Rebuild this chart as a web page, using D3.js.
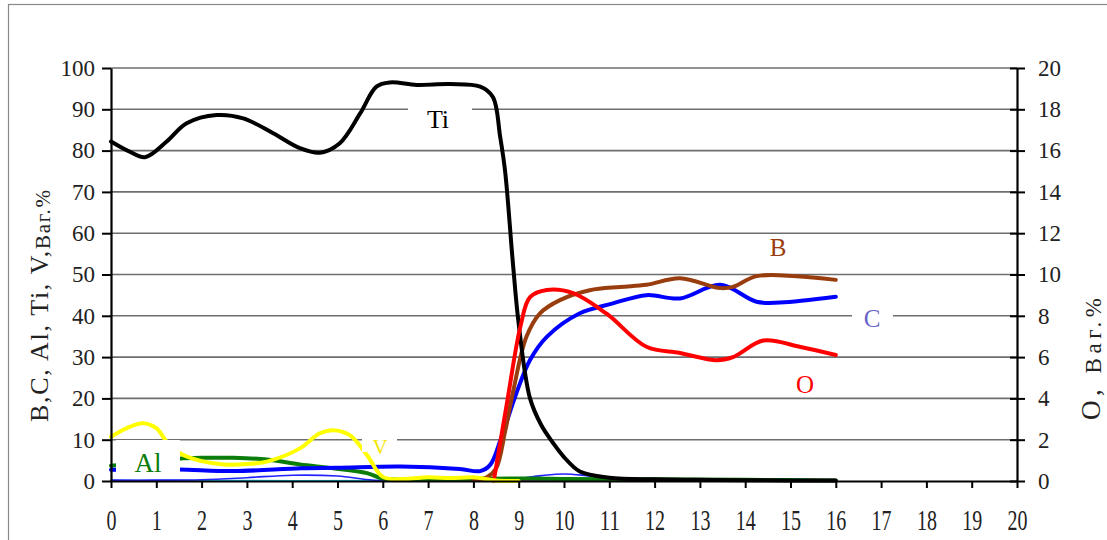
<!DOCTYPE html>
<html lang="uk">
<head>
<meta charset="UTF-8">
<title>Профіль концентрації</title>
<script src="https://cdn.jsdelivr.net/npm/d3@7"></script>
<style>
  body { margin: 0; background: #fff; }
  text { font-family: "Liberation Serif", "DejaVu Serif", serif; }
</style>
</head>
<body>
<script>
    // x ticks and the two y scales
    const xTicks = d3.range(0, 21, 1);
    const yLeftTicks = d3.range(0, 101, 10);
    const yRightTicks = d3.range(0, 21, 2);

    // series: [distance, value]; O is on the right axis
    const ti = [[0,82.2],[0.4,79.8],[0.75,78.4],[1.23,82.2],[1.67,86.6],[2.33,88.6],[2.92,87.8],[3.58,84.2],
        [4.17,80.6],[4.61,79.5],[5.05,81.8],[5.5,89.0],[5.86,95.5],[6.16,96.5],[6.75,95.9],[7.48,96.1],
        [8.15,95.5],[8.43,93],[8.59,83.4],[8.7,75],[8.87,53],[9.0,38],[9.25,20],[9.5,13.5],[9.76,9.2],
        [10,5.8],[10.35,2.3],[11,0.8],[12,0.4],[13,0.3],[14,0.2],[16,0.1]];
    const c = [[0,2.7],[1,2.7],[1.5,2.8],[2.7,2.4],[4.2,3.1],[5,3.2],[6.4,3.5],[7.7,2.9],[8.15,2.4],
        [8.37,3.9],[8.6,10],[8.95,21.3],[9.25,29.3],[9.62,34.9],[10.35,40.6],[11.08,43.0],[11.82,45.0],
        [12.56,44.2],[13.45,47.5],[14.25,43.4],[14.77,43.2],[16,44.6]];
    const b = [[8.0,0.2],[8.3,0.9],[8.5,3],[8.7,12],[8.87,21.3],[9.17,34.9],[9.47,40.6],
        [9.91,43.8],[10.57,46.2],[11.24,47.0],[11.82,47.5],[12.56,49.1],[13.45,46.7],[13.73,47.0],
        [14.25,49.6],[15.13,49.6],[16,48.7]];
    const o = [[8.45,0],[8.75,3.9],[9.04,7.5],[9.25,8.9],[9.62,9.25],[10.2,9.1],[10.94,8.1],[11.82,6.5],
        [12.56,6.2],[13.37,5.85],[13.73,6.0],[14.4,6.8],[15.2,6.5],[16,6.1]];
    const al = [[0,3.7],[0.5,4.2],[1,4.8],[1.5,5.4],[2,5.6],[2.7,5.6],[3.44,5.2],[4.17,4.0],[4.9,3.1],
        [5.65,1.9],[6,0.6],[7,0.4],[8,0.5],[9,0.6],[10,0.5],[12,0.4],[14,0.3],[16,0.1]];
    const v = [[0,10.7],[0.35,12.8],[0.7,14.0],[1.0,12.8],[1.23,9.5],[1.52,6.7],[2.0,4.8],[2.5,4.0],
        [3,4.1],[3.44,4.7],[4.17,7.9],[4.6,11.5],[4.9,12.3],[5.27,11.1],[5.65,6.3],[6,1.0],[6.5,0.5],
        [7,0.9],[7.5,0.7],[8,0.9],[8.5,0.1],[9,0]];
    const thinBlue = [[0,0.2],[1,0.2],[2,0.3],[3,0.8],[4,1.4],[5,1.2],[5.8,0.2],[7,0.1],[8,0.1],[8.5,0.2],
        [9,0.6],[9.5,1.3],[10,1.7],[10.5,1.3],[11,0.7],[12,0.5],[13,0.3],[14,0.1],[16,0.05]];
    const cyan = [[0,0.1],[3,0.1],[6,0.1],[7,0.3],[8,0.4],[9,0.4],[10,0.3],[11,0.2],[12,0.1]];
    const purple = [[0,0.1],[8,0.05],[16,0.05]];

    var w = 1107, h = 540;
    var mLeft = 111, mRight = 1017, mTop = 68, mBottom = 481;

    var svg = d3.select("body").append("svg")
        .attr("width", w)
        .attr("height", h);

    // outer frame
    svg.append("rect")
        .attr("x", 8.5).attr("y", 4.5)
        .attr("width", 1110).attr("height", 560)
        .attr("fill", "#fff")
        .attr("stroke", "#888")
        .attr("stroke-width", 1.2);

    var xScale = d3.scaleLinear().domain([0, 20]).range([mLeft, mRight]);
    var yLeft = d3.scaleLinear().domain([0, 100]).range([mBottom, mTop]);
    var yRight = d3.scaleLinear().domain([0, 20]).range([mBottom, mTop]);

    // gridlines
    svg.append("g")
        .selectAll("line")
        .data(yLeftTicks.slice(1))
        .enter()
        .append("line")
        .attr("x1", mLeft).attr("x2", mRight)
        .attr("y1", function (d) { return yLeft(d); })
        .attr("y2", function (d) { return yLeft(d); })
        .attr("stroke", "#6e6e6e")
        .attr("stroke-width", 1.6);

    var line = function (ys) {
        return d3.line()
            .x(function (d) { return xScale(d[0]); })
            .y(function (d) { return ys(d[1]); })
            .curve(d3.curveCatmullRom.alpha(0.5));
    };

    var series = [
        { data: purple, color: "#993399", width: 1.5, scale: yLeft },
        { data: cyan, color: "#22ccee", width: 1.5, scale: yLeft },
        { data: thinBlue, color: "#2222ff", width: 1.6, scale: yLeft },
        { data: al, color: "#0a7d0a", width: 4, scale: yLeft },
        { data: c, color: "#0000ff", width: 4, scale: yLeft },
        { data: b, color: "#9a3d0e", width: 4, scale: yLeft },
        { data: ti, color: "#000000", width: 4, scale: yLeft },
        { data: o, color: "#ff0000", width: 4, scale: yRight },
        { data: v, color: "#ffff00", width: 4, scale: yLeft }
    ];

    svg.append("g")
        .selectAll("path")
        .data(series)
        .enter()
        .append("path")
        .attr("d", function (s) { return line(s.scale)(s.data); })
        .attr("fill", "none")
        .attr("stroke", function (s) { return s.color; })
        .attr("stroke-width", function (s) { return s.width; })
        .attr("stroke-linejoin", "round")
        .attr("stroke-linecap", "round");

    // series labels with white boxes
    var labels = [
        { text: "Ti", x: 438, y: 128, color: "#000", size: 26, box: [408, 98, 64, 36] },
        { text: "B", x: 778, y: 256, color: "#9a3d0e", size: 25, box: null },
        { text: "C", x: 872, y: 327, color: "#6a64c8", size: 25, box: [852, 302, 41, 30] },
        { text: "O", x: 805, y: 393, color: "#ff0000", size: 25, box: null },
        { text: "V", x: 380, y: 454, color: "#f2e600", size: 21, box: [362, 433, 35, 19] },
        { text: "Al", x: 148, y: 472, color: "#0a7d0a", size: 27, box: [116, 440, 64, 36] }
    ];

    svg.append("g").selectAll("rect")
        .data(labels.filter(function (d) { return d.box; }))
        .enter()
        .append("rect")
        .attr("x", function (d) { return d.box[0]; })
        .attr("y", function (d) { return d.box[1]; })
        .attr("width", function (d) { return d.box[2]; })
        .attr("height", function (d) { return d.box[3]; })
        .attr("fill", "#fff");

    svg.append("g").selectAll("text")
        .data(labels)
        .enter()
        .append("text")
        .text(function (d) { return d.text; })
        .attr("x", function (d) { return d.x; })
        .attr("y", function (d) { return d.y; })
        .attr("text-anchor", "middle")
        .attr("font-size", function (d) { return d.size + "px"; })
        .attr("fill", function (d) { return d.color; });

    // axes
    var xAxis = d3.axisBottom(xScale).tickValues(xTicks).tickSize(7).tickSizeOuter(0);
    var gx = svg.append("g").attr("transform", "translate(0," + mBottom + ")").call(xAxis);
    gx.selectAll(".tick").each(function (d) {
        d3.select(this).select("text")
            .attr("y", 49).attr("dy", 0)
            .attr("font-size", "29px")
            .attr("textLength", d >= 10 ? 20 : 10)
            .attr("lengthAdjust", "spacingAndGlyphs");
    });

    var yAxisL = d3.axisLeft(yLeft).tickValues(yLeftTicks).tickSize(9).tickPadding(7).tickSizeOuter(0);
    var gl = svg.append("g").attr("transform", "translate(" + mLeft + ",0)").call(yAxisL);
    gl.selectAll("text").attr("font-size", "23px");

    var yAxisR = d3.axisRight(yRight).tickValues(yRightTicks).tickSize(8).tickPadding(13).tickSizeOuter(0);
    var gr = svg.append("g").attr("transform", "translate(" + mRight + ",0)").call(yAxisR);
    gr.selectAll(".tick line").attr("x1", -7);
    gr.selectAll("text").attr("font-size", "23px");

    [gx, gl, gr].forEach(function (g) {
        g.select(".domain").attr("stroke", "#000").attr("stroke-width", 2.2);
        g.selectAll(".tick line").attr("stroke", "#000").attr("stroke-width", 2);
        g.selectAll("text").attr("fill", "#222")
            .attr("font-family", "'Liberation Serif', serif");
    });

    // axis titles
    var tl = svg.append("text")
        .attr("transform", "translate(48,306) rotate(-90)")
        .attr("text-anchor", "middle")
        .attr("font-size", "26px")
        .attr("textLength", 232)
        .attr("lengthAdjust", "spacing")
        .attr("fill", "#222");
    tl.append("tspan").text("B,C, Al, Ti, V,");
    tl.append("tspan").attr("font-size", "21px").attr("dy", 2).text("Ваг.%");

    var tr = svg.append("text")
        .attr("transform", "translate(1100,359) rotate(-90)")
        .attr("text-anchor", "middle")
        .attr("font-size", "27px")
        .attr("textLength", 122)
        .attr("lengthAdjust", "spacing")
        .attr("fill", "#222");
    tr.append("tspan").text("O, ");
    tr.append("tspan").attr("font-size", "23px").attr("dy", 1).text("Ваг.%");
</script>
</body>
</html>
